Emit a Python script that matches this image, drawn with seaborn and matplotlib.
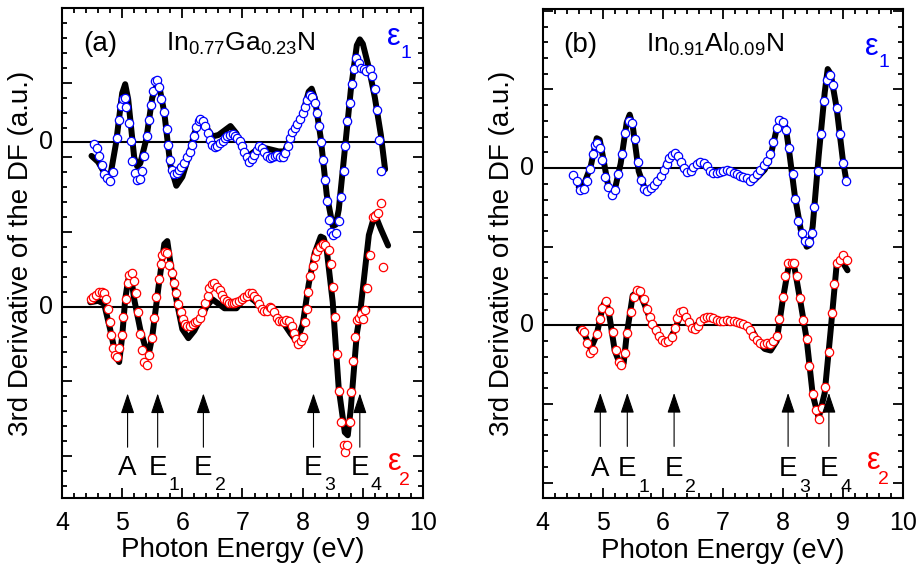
import numpy as np
import matplotlib
matplotlib.use('Agg')
import matplotlib.pyplot as plt
from matplotlib.ticker import MultipleLocator
import seaborn as sns

# ---------------- panel (a): In0.77Ga0.23N ----------------
# measured eps1 (blue circles), values in arbitrary units
a_e1_x = [4.54, 4.58, 4.62, 4.66, 4.70, 4.75, 4.80, 4.84, 4.91, 4.94,
          4.98, 5.02, 5.05, 5.07, 5.11, 5.14, 5.17, 5.22, 5.25, 5.29,
          5.33, 5.37, 5.42, 5.45, 5.48, 5.51, 5.55, 5.58, 5.62, 5.65,
          5.70, 5.74, 5.76, 5.80, 5.83, 5.86, 5.91, 5.94, 5.98, 6.03,
          6.07, 6.12, 6.16, 6.19, 6.23, 6.27, 6.30, 6.35, 6.38, 6.42,
          6.46, 6.50, 6.54, 6.58, 6.63, 6.67, 6.71, 6.75, 6.79, 6.84,
          6.88, 6.91, 6.96, 6.99, 7.02, 7.07, 7.11, 7.15, 7.19, 7.24,
          7.28, 7.32, 7.36, 7.40, 7.45, 7.49, 7.54, 7.58, 7.62, 7.67,
          7.71, 7.75, 7.79, 7.83, 7.87, 7.91, 7.96, 8.00, 8.04, 8.08,
          8.12, 8.16, 8.20, 8.23, 8.27, 8.30, 8.33, 8.37, 8.40, 8.43,
          8.47, 8.51, 8.55, 8.60, 8.64, 8.68, 8.71, 8.74, 8.79, 8.82,
          8.85, 8.89, 8.93, 8.97, 9.02, 9.06, 9.12, 9.16, 9.21, 9.24,
          9.27, 9.31]
a_e1_y = [-0.09, -0.38, -0.94, -1.5, -2.1, -2.4, -2.6, -1.96, 0.29, 1.48,
          2.47, 2.92, 2.97, 2.38, 1.3, 0.07, -1.24, -2.07, -2.52, -2.47,
          -1.91, -0.94, 0.4, 1.48, 2.54, 3.44, 4.11, 4.18, 3.73, 2.94,
          2.02, 0.9, -0.16, -1.17, -1.84, -2.11, -2.02, -1.84, -1.62, -1.35,
          -0.99, -0.61, -0.16, 0.40, 1.03, 1.42, 1.57, 1.42, 1.12, 0.63,
          0.18, -0.16, -0.31, -0.22, -0.04, 0.13, 0.29, 0.40, 0.52, 0.56,
          0.45, 0.29, 0.07, -0.27, -0.61, -0.99, -1.28, -1.12, -0.83, -0.49,
          -0.27, -0.38, -0.67, -0.94, -1.06, -0.99, -0.90, -0.83, -0.99, -0.99,
          -0.72, -0.27, 0.29, 0.67, 0.97, 1.26, 1.57, 1.98, 2.38, 2.83,
          3.15, 3.06, 2.65, 1.98, 1.08, 0.0, -1.17, -2.52, -3.93, -5.17,
          -6.0, -6.22, -6.07, -5.26, -3.64, -1.91, -0.22, 1.42, 2.65, 3.89,
          4.94, 5.62, 5.30, 5.01, 4.90, 4.79, 4.94, 4.45, 3.60, 2.20,
          0.18, -1.89]
# fitted eps1 (black line)
a_f1_x = [4.49, 4.6, 4.7, 4.8, 4.9, 5.0, 5.05, 5.1, 5.2, 5.25,
          5.3, 5.4, 5.5, 5.6, 5.7, 5.8, 5.9, 6.0, 6.1, 6.2,
          6.3, 6.4, 6.5, 6.6, 6.7, 6.8, 6.9, 7.0, 7.1, 7.2,
          7.3, 7.4, 7.5, 7.6, 7.7, 7.8, 7.9, 8.0, 8.1, 8.15,
          8.2, 8.3, 8.4, 8.5, 8.55, 8.6, 8.7, 8.8, 8.9, 8.95,
          9.0, 9.1, 9.2, 9.3, 9.37]
a_f1_y = [-0.9, -1.3, -2.0, -2.3, 0.0, 3.3, 3.9, 2.9, -1.0, -1.6,
          -1.4, 0.2, 3.0, 4.1, 2.0, -1.5, -2.9, -2.3, -1.0, 0.6,
          1.5, 1.0, 0.4, 0.5, 0.8, 1.1, 0.6, -0.4, -0.9, -0.6,
          -0.35, -0.4, -0.5, -0.6, -0.6, 0.3, 1.0, 1.9, 3.4, 3.6,
          3.0, 0.3, -3.5, -5.6, -5.5, -4.5, -0.5, 3.5, 6.5, 6.9,
          6.6, 5.0, 3.0, 0.5, -1.8]
# measured eps2 (red circles)
a_e2_x = [4.49, 4.52, 4.56, 4.62, 4.66, 4.70, 4.73, 4.76, 4.79, 4.81,
          4.84, 4.88, 4.92, 4.95, 4.99, 5.02, 5.06, 5.09, 5.12, 5.16,
          5.20, 5.23, 5.26, 5.30, 5.33, 5.36, 5.41, 5.45, 5.49, 5.53,
          5.57, 5.61, 5.64, 5.67, 5.71, 5.75, 5.78, 5.83, 5.86, 5.89,
          5.93, 5.97, 6.01, 6.04, 6.08, 6.13, 6.17, 6.21, 6.25, 6.29,
          6.33, 6.38, 6.42, 6.45, 6.49, 6.53, 6.58, 6.62, 6.66, 6.69,
          6.74, 6.78, 6.82, 6.86, 6.90, 6.95, 6.99, 7.03, 7.07, 7.11,
          7.15, 7.19, 7.24, 7.28, 7.32, 7.36, 7.40, 7.45, 7.48, 7.52,
          7.57, 7.61, 7.65, 7.69, 7.73, 7.78, 7.82, 7.86, 7.89, 7.93,
          7.97, 8.01, 8.04, 8.07, 8.09, 8.13, 8.17, 8.20, 8.24, 8.29,
          8.33, 8.37, 8.43, 8.47, 8.50, 8.53, 8.57, 8.60, 8.64, 8.68,
          8.71, 8.74, 8.78, 8.81, 8.84, 8.87, 8.90, 8.94, 8.97, 9.01,
          9.04, 9.07, 9.12, 9.17, 9.21, 9.26, 9.31, 9.34]
a_e2_y = [0.52, 0.63, 0.81, 0.97, 1.01, 0.9, 0.52, -0.16, -0.99, -1.91,
          -2.74, -3.24, -3.37, -2.79, -1.89, -0.67, 0.52, 1.57, 2.16, 2.25,
          1.75, 0.90, -0.38, -1.8, -2.92, -3.71, -3.87, -3.24, -2.07, -0.72,
          0.67, 1.87, 2.88, 3.44, 3.66, 3.6, 2.83, 2.25, 1.57, 0.90,
          0.18, -0.38, -0.83, -1.17, -1.28, -1.28, -1.17, -0.99, -0.94, -0.72,
          -0.38, 0.22, 0.74, 1.26, 1.53, 1.57, 1.35, 1.12, 0.81, 0.52,
          0.36, 0.22, 0.22, 0.22, 0.29, 0.40, 0.52, 0.63, 0.74, 0.90,
          0.90, 0.74, 0.52, 0.18, -0.16, -0.31, -0.27, 0.0, -0.09, -0.38,
          -0.72, -0.94, -0.94, -0.99, -0.9, -0.94, -1.28, -1.73, -2.18, -2.52,
          -2.29, -2.02, -0.99, -0.16, 0.97, 2.09, 2.76, 3.33, 3.73, 4.0,
          4.18, 4.11, 3.78, 2.88, 1.35, -0.67, -3.15, -5.66, -7.73, -9.26,
          -9.71, -9.26, -7.73, -5.71, -3.64, -2.02, -0.9, -0.76, -0.45, -0.83,
          -0.22, 1.26, 3.44, 6.02, 6.07, 6.29, 6.97, 2.65]
# fitted eps2 (black line)
a_f2_x = [4.47, 4.6, 4.7, 4.8, 4.9, 4.95, 5.0, 5.05, 5.1, 5.15,
          5.2, 5.3, 5.4, 5.45, 5.5, 5.6, 5.7, 5.75, 5.8, 5.9,
          6.0, 6.1, 6.2, 6.3, 6.4, 6.5, 6.6, 6.7, 6.8, 6.9,
          7.0, 7.1, 7.2, 7.3, 7.4, 7.5, 7.6, 7.7, 7.8, 7.9,
          8.0, 8.1, 8.2, 8.3, 8.35, 8.4, 8.5, 8.6, 8.7, 8.75,
          8.8, 8.9, 8.95, 9.0, 9.05, 9.1, 9.2, 9.3, 9.42]
a_f2_y = [0.3, 0.4, 0.2, -1.5, -3.4, -3.7, -2.0, 0.5, 1.8, 2.0,
          0.5, -1.5, -2.9, -3.0, -2.0, 1.2, 4.2, 4.4, 3.0, 0.5,
          -1.5, -2.1, -1.6, -0.8, 0.0, 0.5, 0.2, -0.1, -0.1, -0.1,
          0.4, 0.7, 0.4, 0.0, -0.2, -0.4, -0.8, -1.2, -1.8, -2.3,
          -1.2, 1.5, 3.6, 4.7, 4.6, 3.8, 0.3, -5.5, -8.4, -8.6,
          -6.8, -1.8, -0.6, 1.2, 3.0, 4.8, 6.2, 5.2, 4.1]
a_arrow_x = [5.09, 5.59, 6.35, 8.18, 8.95]

# ---------------- panel (b): In0.91Al0.09N ----------------
b_e1_x = [4.51, 4.57, 4.62, 4.68, 4.73, 4.79, 4.83, 4.87, 4.91, 4.96,
          4.99, 5.04, 5.09, 5.15, 5.21, 5.26, 5.32, 5.37, 5.43, 5.48,
          5.53, 5.58, 5.63, 5.69, 5.74, 5.80, 5.86, 5.91, 5.97, 6.02,
          6.07, 6.11, 6.16, 6.21, 6.26, 6.31, 6.36, 6.41, 6.47, 6.51,
          6.57, 6.62, 6.68, 6.73, 6.79, 6.84, 6.90, 6.96, 7.01, 7.07,
          7.12, 7.18, 7.23, 7.29, 7.34, 7.40, 7.46, 7.51, 7.57, 7.62,
          7.68, 7.73, 7.79, 7.84, 7.90, 7.94, 8.00, 8.06, 8.10, 8.17,
          8.21, 8.26, 8.32, 8.37, 8.43, 8.48, 8.52, 8.58, 8.63, 8.69,
          8.73, 8.79, 8.84, 8.90, 8.96, 9.00, 9.06]
b_e1_y = [-0.42, -0.85, -1.38, -1.31, -0.85, -0.04, 0.89, 1.48, 1.59, 1.31,
          0.53, -0.59, -1.23, -1.69, -1.38, -0.38, 0.89, 2.22, 3.01, 2.86,
          1.86, 0.42, -0.74, -1.31, -1.44, -1.27, -1.06, -0.81, -0.53, -0.11,
          0.25, 0.64, 0.85, 0.95, 0.74, 0.38, 0.0, -0.25, -0.21, 0.04,
          0.25, 0.42, 0.32, 0.11, -0.17, -0.32, -0.32, -0.25, -0.21, -0.11,
          -0.21, -0.32, -0.38, -0.53, -0.59, -0.64, -0.85, -0.64, -0.38, -0.11,
          0.21, 0.47, 0.89, 1.69, 2.58, 3.07, 2.92, 2.44, 1.27, -0.38,
          -1.95, -3.39, -4.13, -4.66, -4.70, -4.13, -2.50, -0.21, 2.16, 4.28,
          5.61, 5.93, 5.30, 3.81, 2.16, 0.32, -0.85]
b_f1_x = [4.6, 4.7, 4.8, 4.9, 4.95, 5.0, 5.1, 5.2, 5.3, 5.4,
          5.45, 5.5, 5.6, 5.7, 5.8, 5.9, 6.0, 6.1, 6.2, 6.3,
          6.4, 6.5, 6.6, 6.7, 6.8, 6.9, 7.0, 7.1, 7.2, 7.3,
          7.4, 7.5, 7.6, 7.7, 7.8, 7.9, 7.97, 8.05, 8.1, 8.2,
          8.3, 8.4, 8.45, 8.5, 8.6, 8.7, 8.75, 8.8, 8.9, 9.0,
          9.06]
b_f1_y = [-1.2, -0.9, 0.1, 1.9, 1.8, 0.8, -1.3, -1.4, 0.3, 2.9,
          3.4, 2.7, -0.2, -1.3, -1.3, -0.9, -0.3, 0.6, 0.9, 0.4,
          -0.2, 0.0, 0.4, 0.2, -0.2, -0.3, -0.2, -0.2, -0.4, -0.6,
          -0.7, -0.85, -0.5, -0.1, 0.8, 2.5, 3.1, 2.6, 1.3, -1.7,
          -3.9, -5.0, -4.9, -3.7, 0.8, 4.8, 6.3, 6.0, 3.8, 0.6,
          -0.8]
b_e2_x = [4.65, 4.69, 4.74, 4.79, 4.84, 4.90, 4.96, 4.99, 5.05, 5.11,
          5.17, 5.22, 5.27, 5.31, 5.37, 5.41, 5.47, 5.52, 5.57, 5.62,
          5.68, 5.73, 5.78, 5.82, 5.88, 5.93, 5.99, 6.04, 6.09, 6.15,
          6.20, 6.24, 6.29, 6.33, 6.38, 6.44, 6.48, 6.53, 6.58, 6.62,
          6.68, 6.73, 6.79, 6.84, 6.90, 6.96, 7.01, 7.07, 7.12, 7.18,
          7.23, 7.29, 7.34, 7.40, 7.46, 7.51, 7.57, 7.62, 7.68, 7.73,
          7.79, 7.84, 7.90, 7.94, 8.00, 8.04, 8.09, 8.15, 8.19, 8.23,
          8.29, 8.34, 8.40, 8.44, 8.50, 8.55, 8.60, 8.66, 8.71, 8.77,
          8.82, 8.86, 8.90, 8.96, 9.01, 9.07]
b_e2_y = [-0.28, -0.44, -1.12, -1.76, -1.55, -0.53, 0.40, 1.10, 1.57, 0.89,
          -0.44, -1.59, -2.35, -2.50, -1.76, -0.49, 0.83, 1.80, 2.22, 2.16,
          1.67, 1.04, 0.53, 0.11, -0.28, -0.66, -0.91, -1.04, -1.02, -0.74,
          -0.17, 0.47, 0.83, 0.89, 0.53, 0.19, -0.17, -0.23, -0.06, 0.25,
          0.47, 0.53, 0.53, 0.47, 0.32, 0.25, 0.25, 0.32, 0.25, 0.25,
          0.19, 0.15, 0.08, -0.06, -0.28, -0.66, -0.95, -1.12, -1.17, -1.12,
          -1.17, -1.02, -0.66, 0.40, 1.80, 3.11, 3.96, 3.96, 3.96, 3.16,
          1.74, 0.36, -0.87, -2.56, -4.34, -5.36, -5.95, -5.25, -3.92, -1.72,
          0.78, 2.65, 3.96, 4.17, 4.49, 4.17]
b_f2_x = [4.6, 4.7, 4.8, 4.9, 5.0, 5.05, 5.1, 5.2, 5.3, 5.35,
          5.4, 5.5, 5.6, 5.7, 5.8, 5.9, 6.0, 6.1, 6.2, 6.3,
          6.4, 6.5, 6.6, 6.7, 6.8, 6.9, 7.0, 7.1, 7.2, 7.3,
          7.4, 7.5, 7.6, 7.7, 7.8, 7.9, 8.0, 8.1, 8.15, 8.2,
          8.3, 8.4, 8.5, 8.6, 8.7, 8.8, 8.9, 9.0, 9.08]
b_f2_y = [-0.2, -0.6, -1.5, -0.6, 1.2, 1.6, 0.9, -1.6, -2.6, -2.4,
          -0.6, 1.9, 2.2, 1.3, 0.3, -0.5, -0.9, -1.0, -0.3, 0.7,
          0.5, -0.1, 0.1, 0.5, 0.5, 0.3, 0.25, 0.25, 0.2, 0.1,
          0.0, -0.4, -1.1, -1.5, -1.6, -1.0, 1.6, 3.8, 4.0, 3.6,
          1.4, -0.9, -4.4, -5.9, -4.3, -0.3, 3.9, 4.0, 3.5]
b_arrow_x = [4.96, 5.41, 6.19, 8.09, 8.77]

arrow_main = ['A', 'E', 'E', 'E', 'E']
arrow_sub = ['', '1', '2', '3', '4']

# ---------------- style ----------------
sns.set_style('ticks')
plt.rcParams['font.family'] = ['Liberation Sans', 'DejaVu Sans']
plt.rcParams['mathtext.fontset'] = 'custom'
plt.rcParams['mathtext.rm'] = 'Liberation Sans'
plt.rcParams['mathtext.it'] = 'Liberation Sans:italic'
plt.rcParams['axes.linewidth'] = 1.5
for key in ('text.color', 'axes.labelcolor', 'axes.edgecolor',
            'xtick.color', 'ytick.color'):
    plt.rcParams[key] = 'black'

TICK_FS = 18
LABEL_FS = 20


def draw_panel(ax, e1x, e1y, f1x, f1y, e2x, e2y, f2x, f2y, shift, ylim,
               arrow_x, tip, tail, lab_y, tag, formula, eps1_pos, eps2_pos):
    # zero lines
    ax.axhline(0, color='black', lw=1.5, zorder=1)
    ax.axhline(shift, color='black', lw=1.5, zorder=1)

    # fits (thick black) under the data
    sns.lineplot(x=f1x, y=np.array(f1y) + shift, ax=ax, color='black',
                 linewidth=4.3, sort=False, estimator=None, zorder=2)
    sns.lineplot(x=f2x, y=f2y, ax=ax, color='black',
                 linewidth=4.3, sort=False, estimator=None, zorder=2)

    # measured data
    sns.scatterplot(x=e1x, y=np.array(e1y) + shift, ax=ax, marker='o', s=36,
                    facecolor='white', edgecolor='#0000ff', linewidth=0.9, zorder=3)
    sns.scatterplot(x=e2x, y=e2y, ax=ax, marker='o', s=36,
                    facecolor='white', edgecolor='#ff0000', linewidth=0.9, zorder=3)

    # transition arrows
    for xa, m, s in zip(arrow_x, arrow_main, arrow_sub):
        ax.annotate('', xy=(xa, tip), xytext=(xa, tail),
                    arrowprops=dict(arrowstyle='-|>,head_length=1.25,head_width=0.42',
                                    color='black', lw=0.8, mutation_scale=10,
                                    shrinkA=0, shrinkB=0))
        ax.text(xa, lab_y, m, ha='center', va='baseline', fontsize=LABEL_FS)
        if s:
            ax.annotate(s, xy=(xa, lab_y), xytext=(8, -11), textcoords='offset points',
                        ha='left', va='baseline', fontsize=14)

    # labels inside the panel
    ax.text(0.058, 0.913, tag, transform=ax.transAxes, fontsize=LABEL_FS,
            ha='left', va='baseline')
    ax.text(0.288, 0.913, formula, transform=ax.transAxes, fontsize=19,
            ha='left', va='baseline')
    ax.text(eps1_pos[0], eps1_pos[1], 'ε', transform=ax.transAxes, fontsize=22,
            ha='left', va='baseline', color='#0000ff')
    ax.annotate('1', xy=eps1_pos, xycoords='axes fraction', xytext=(9.5, -9),
                textcoords='offset points', fontsize=14, ha='left', va='baseline',
                color='#0000ff')
    ax.text(eps2_pos[0], eps2_pos[1], 'ε', transform=ax.transAxes, fontsize=22,
            ha='left', va='baseline', color='#ff0000')
    ax.annotate('2', xy=eps2_pos, xycoords='axes fraction', xytext=(8, -11),
                textcoords='offset points', fontsize=14, ha='left', va='baseline',
                color='#ff0000')

    # axes
    ax.set_xlim(4, 10)
    ax.set_ylim(*ylim)
    ax.xaxis.set_major_locator(MultipleLocator(1))
    ax.xaxis.set_minor_locator(MultipleLocator(0.2))
    ax.yaxis.set_major_locator(MultipleLocator(5))
    ax.yaxis.set_minor_locator(MultipleLocator(1))
    ax.set_yticklabels([])
    for yv in (0, shift):
        ax.text(-0.025, yv, '0', transform=ax.get_yaxis_transform(),
                ha='right', va='center', fontsize=TICK_FS)
    ax.tick_params(which='both', direction='in', top=True, right=True, width=1.3)
    ax.tick_params(which='major', length=7.5, labelsize=TICK_FS, pad=9)
    ax.tick_params(which='minor', length=3.5)
    ax.set_xlabel('Photon Energy (eV)', fontsize=LABEL_FS, labelpad=2)
    ax.set_ylabel('3rd Derivative of the DF (a.u.)', fontsize=LABEL_FS, labelpad=11)


fig = plt.figure(figsize=(9.22, 5.72), dpi=100)
ax_a = fig.add_axes([62 / 922, 74 / 572, 361 / 922, 490 / 572])
ax_b = fig.add_axes([542.7 / 922, 73.7 / 572, 360 / 922, 489 / 572])

draw_panel(ax_a, a_e1_x, a_e1_y, a_f1_x, a_f1_y, a_e2_x, a_e2_y, a_f2_x, a_f2_y,
           shift=11, ylim=(-12.8, 20.0), arrow_x=a_arrow_x, tip=-5.8, tail=-9.4,
           lab_y=-11.27, tag='(a)', formula=r'In$_{0.77}$Ga$_{0.23}$N',
           eps1_pos=(0.900, 0.924), eps2_pos=(0.903, 0.057))
draw_panel(ax_b, b_e1_x, b_e1_y, b_f1_x, b_f1_y, b_e2_x, b_e2_y, b_f2_x, b_f2_y,
           shift=10, ylim=(-11.0, 20.1), arrow_x=b_arrow_x, tip=-4.3, tail=-7.7,
           lab_y=-9.6, tag='(b)', formula=r'In$_{0.91}$Al$_{0.09}$N',
           eps1_pos=(0.895, 0.907), eps2_pos=(0.900, 0.060))

fig.savefig('out.png', dpi=100)
